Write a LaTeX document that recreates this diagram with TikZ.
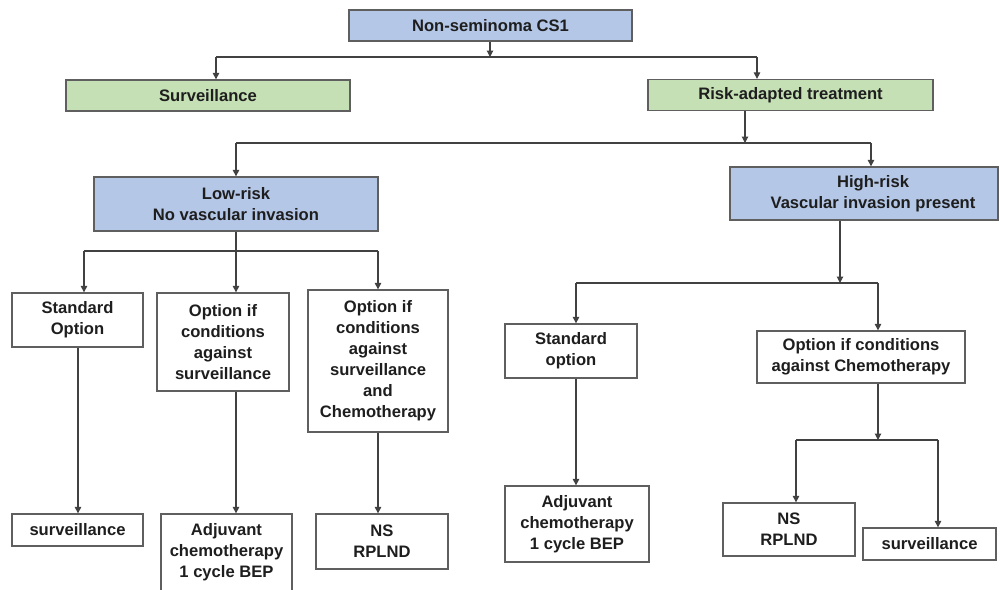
\documentclass[tikz,border=0pt]{standalone}
\usepackage{fontspec}
\setmainfont{Liberation Sans}
\usetikzlibrary{arrows.meta}
\definecolor{bluefill}{RGB}{180,199,231}
\definecolor{greenfill}{RGB}{197,224,180}
\definecolor{edgecol}{RGB}{95,95,95}
\definecolor{linecol}{RGB}{65,65,65}
\definecolor{txtcol}{RGB}{30,30,30}
\begin{document}
\begin{tikzpicture}[x=1pt,y=-1pt,
 box/.style={draw=edgecol, line width=1.3pt, fill=white, inner sep=0pt, align=center, text=txtcol, font=\fontsize{16.6}{21}\selectfont\bfseries},
 bluebox/.style={box, fill=bluefill},
 greenbox/.style={box, fill=greenfill},
 conn/.style={draw=linecol, line width=1.1pt},
 arr/.style={conn, -{Triangle[width=6.5pt,length=6.5pt]}}
]
\useasboundingbox (0,0) rectangle (1000,589);
\clip (0,0) rectangle (1000,589);
% nodes
\node[bluebox, minimum width=283pt, minimum height=31pt] (top) at (490.5,25.5) {Non-seminoma CS1};
\node[greenbox, minimum width=284pt, minimum height=31pt] (surv) at (208,95.5) {Surveillance};
\node[greenbox, minimum width=285pt, minimum height=31pt] (risk) at (790.5,95) {Risk-adapted treatment};
\node[bluebox, minimum width=284pt, minimum height=54pt] (low) at (236,204) {Low-risk\\No vascular invasion};
\node[bluebox, minimum width=268pt, minimum height=53pt] (high) at (864,193.5) {\hspace*{18pt}\begin{tabular}{@{}c@{}}High-risk\\Vascular invasion present\end{tabular}};
\node[box, minimum width=131pt, minimum height=54pt] (so1) at (77.5,320) {Standard\\Option};
\node[box, minimum width=132pt, minimum height=98pt] (oc1) at (223,342) {Option if\\conditions\\against\\surveillance};
\node[box, minimum width=140pt, minimum height=142pt] (oc2) at (378,361) {Option if\\conditions\\against\\surveillance\\and\\Chemotherapy};
\node[box, minimum width=131pt, minimum height=32pt] (s1) at (77.5,530) {surveillance};
\node[box, minimum width=131pt, minimum height=77pt] (adj1) at (226.5,552.5) {Adjuvant\\chemotherapy\\1 cycle BEP};
\node[box, minimum width=132pt, minimum height=55pt] (ns1) at (382,541.5) {NS\\RPLND};
\node[box, minimum width=132pt, minimum height=54pt] (so2) at (571,351) {Standard\\option};
\node[box, minimum width=208pt, minimum height=52pt] (oc3) at (861,357) {Option if conditions\\against Chemotherapy};
\node[box, minimum width=144pt, minimum height=76pt] (adj2) at (577,524) {Adjuvant\\chemotherapy\\1 cycle BEP};
\node[box, minimum width=132pt, minimum height=53pt] (ns2) at (789,529.5) {NS\\RPLND};
\node[box, minimum width=133pt, minimum height=32pt] (s2) at (929.5,544) {surveillance};
% junctions
\coordinate (j1) at (490,57);
\coordinate (j1L) at (216,57);
\coordinate (j1R) at (757,57);
\coordinate (j2) at (745,143);
\coordinate (j2L) at (236,143);
\coordinate (j2R) at (871,143);
\coordinate (j3) at (236,251);
\coordinate (j3L) at (84,251);
\coordinate (j3R) at (378,251);
\coordinate (c1) at (78,320);
\coordinate (j4) at (840,283);
\coordinate (j4L) at (576,283);
\coordinate (j4R) at (878,283);
\coordinate (j5) at (878,440);
\coordinate (j5L) at (796,440);
\coordinate (j5R) at (938,440);
% connectors
\draw[arr] (top.south -| j1) -- (j1);
\draw[conn] (j1L) -- (j1R);
\draw[arr] (j1L) -- (j1L |- surv.north);
\draw[arr] (j1R) -- (j1R |- risk.north);
\draw[arr] (risk.south -| j2) -- (j2);
\draw[conn] (j2L) -- (j2R);
\draw[arr] (j2L) -- (j2L |- low.north);
\draw[arr] (j2R) -- (j2R |- high.north);
\draw[arr] (low.south -| j3) -- (j3 |- oc1.north);
\draw[conn] (j3L) -- (j3R);
\draw[arr] (j3L) -- (j3L |- so1.north);
\draw[arr] (j3R) -- (j3R |- oc2.north);
\draw[arr] (so1.south -| c1) -- (s1.north -| c1);
\draw[arr] (j3 |- oc1.south) -- (j3 |- adj1.north);
\draw[arr] (oc2.south -| j3R) -- (j3R |- ns1.north);
\draw[arr] (high.south -| j4) -- (j4);
\draw[conn] (j4L) -- (j4R);
\draw[arr] (j4L) -- (j4L |- so2.north);
\draw[arr] (j4R) -- (j4R |- oc3.north);
\draw[arr] (j4L |- so2.south) -- (j4L |- adj2.north);
\draw[arr] (oc3.south -| j5) -- (j5);
\draw[conn] (j5L) -- (j5R);
\draw[arr] (j5L) -- (j5L |- ns2.north);
\draw[arr] (j5R) -- (j5R |- s2.north);
\end{tikzpicture}
\end{document}
